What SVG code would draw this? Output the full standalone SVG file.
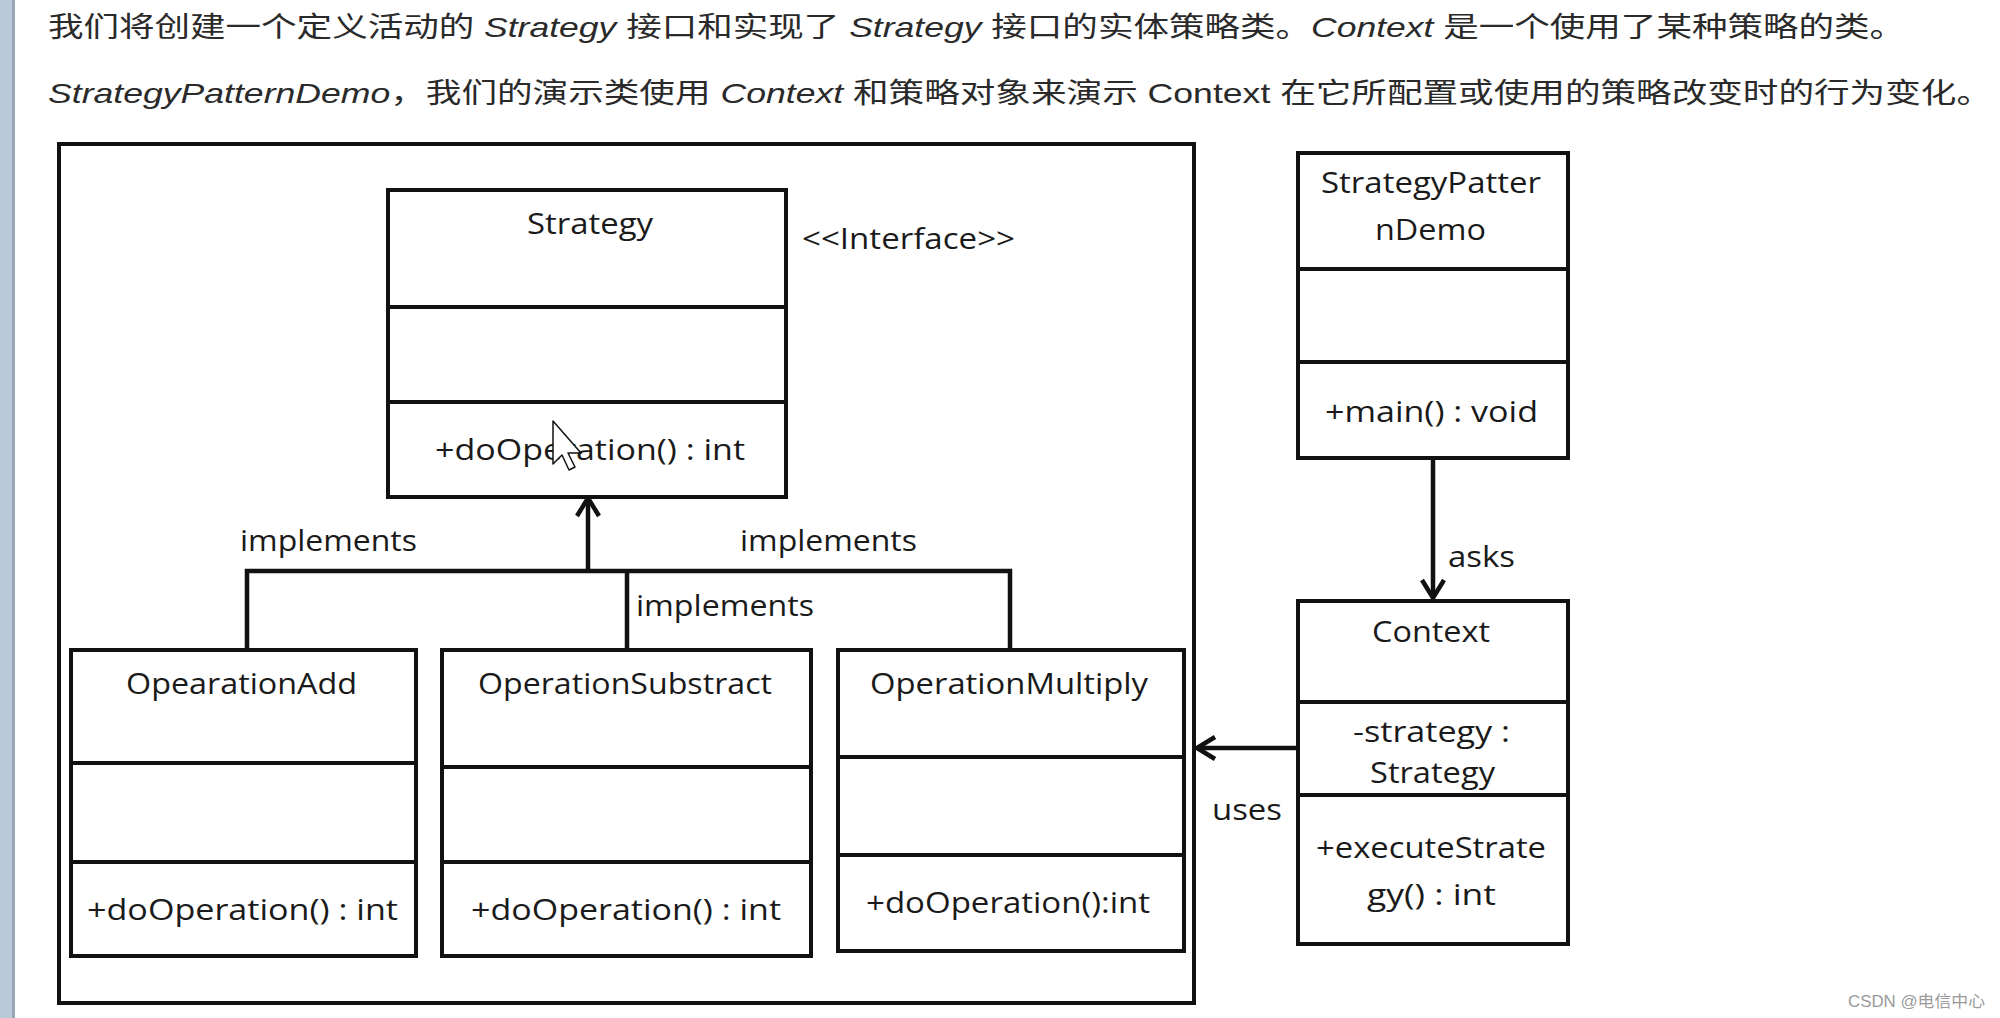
<svg xmlns="http://www.w3.org/2000/svg" width="2000" height="1018" viewBox="0 0 2000 1018">
<style>
.box{fill:#fff;stroke:#111;stroke-width:4}
.div{stroke:#111;stroke-width:4}
.t{font-family:"Open Sans","Liberation Sans",sans-serif;font-size:30px;fill:#1a1a1a}
.m{text-anchor:middle}
.hd{font-family:"Liberation Sans","Noto Sans CJK SC",sans-serif;font-size:28px;fill:#2a2a2a}
.it{font-style:italic}
.conn{fill:none;stroke:#111;stroke-width:4.5}
</style>
<defs>
<marker id="open" markerUnits="userSpaceOnUse" markerWidth="40" markerHeight="40" viewBox="-25 -20 40 40" refX="0" refY="0" orient="auto">
<path d="M-18,-11 L0,0 L-18,11" fill="none" stroke="#111" stroke-width="4.5"/>
</marker>
</defs>
<rect x="0" y="0" width="2000" height="1018" fill="#fff"/>
<rect x="0" y="0" width="12" height="1018" fill="#b9c9d9"/>
<rect x="12" y="0" width="3" height="1018" fill="#9aa6b2"/>

<g id="header">
<text class="hd" x="48" y="37" textLength="1857" lengthAdjust="spacingAndGlyphs">我们将创建一个定义活动的 <tspan class="it">Strategy</tspan> 接口和实现了 <tspan class="it">Strategy</tspan> 接口的实体策略类。<tspan class="it">Context</tspan> 是一个使用了某种策略的类。</text>
<text class="hd" x="48" y="103" textLength="1944" lengthAdjust="spacingAndGlyphs"><tspan class="it">StrategyPatternDemo</tspan>，我们的演示类使用 <tspan class="it">Context</tspan> 和策略对象来演示 Context 在它所配置或使用的策略改变时的行为变化。</text>
</g>

<g id="frame">
<rect x="59" y="144" width="1135" height="859" fill="none" stroke="#111" stroke-width="4"/>
</g>

<g id="connectors">
<polyline class="conn" points="247,650 247,571 1010,571 1010,650"/>
<line class="conn" x1="627" y1="571" x2="627" y2="650"/>
<line class="conn" x1="588" y1="571" x2="588" y2="498" marker-end="url(#open)"/>
<line class="conn" x1="1433" y1="458" x2="1433" y2="598" marker-end="url(#open)"/>
<line class="conn" x1="1298" y1="748" x2="1197" y2="748" marker-end="url(#open)"/>
<text class="t" x="240" y="551" textLength="177" lengthAdjust="spacingAndGlyphs">implements</text>
<text class="t" x="740" y="551" textLength="177" lengthAdjust="spacingAndGlyphs">implements</text>
<text class="t" x="636" y="616" textLength="178" lengthAdjust="spacingAndGlyphs">implements</text>
<text class="t" x="1448" y="567" textLength="67" lengthAdjust="spacingAndGlyphs">asks</text>
<text class="t" x="1212" y="820" textLength="70" lengthAdjust="spacingAndGlyphs">uses</text>
</g>

<g id="Strategy">
<rect class="box" x="388" y="190" width="398" height="307"/>
<line class="div" x1="388" y1="307" x2="786" y2="307"/>
<line class="div" x1="388" y1="402" x2="786" y2="402"/>
<text class="t m" x="590" y="234" textLength="126" lengthAdjust="spacingAndGlyphs">Strategy</text>
<text class="t m" x="590" y="460" textLength="310" lengthAdjust="spacingAndGlyphs">+doOperation() : int</text>
<text class="t" x="802" y="249" textLength="213" lengthAdjust="spacingAndGlyphs">&lt;&lt;Interface&gt;&gt;</text>
</g>

<g id="OpearationAdd">
<rect class="box" x="71" y="650" width="345" height="306"/>
<line class="div" x1="71" y1="763" x2="416" y2="763"/>
<line class="div" x1="71" y1="862" x2="416" y2="862"/>
<text class="t m" x="241.5" y="694" textLength="231" lengthAdjust="spacingAndGlyphs">OpearationAdd</text>
<text class="t m" x="242.5" y="920" textLength="311" lengthAdjust="spacingAndGlyphs">+doOperation() : int</text>
</g>

<g id="OperationSubstract">
<rect class="box" x="442" y="650" width="369" height="306"/>
<line class="div" x1="442" y1="767" x2="811" y2="767"/>
<line class="div" x1="442" y1="862" x2="811" y2="862"/>
<text class="t m" x="625" y="694" textLength="294" lengthAdjust="spacingAndGlyphs">OperationSubstract</text>
<text class="t m" x="626" y="920" textLength="310" lengthAdjust="spacingAndGlyphs">+doOperation() : int</text>
</g>

<g id="OperationMultiply">
<rect class="box" x="838" y="650" width="346" height="301"/>
<line class="div" x1="838" y1="757" x2="1184" y2="757"/>
<line class="div" x1="838" y1="855" x2="1184" y2="855"/>
<text class="t m" x="1009" y="694" textLength="278" lengthAdjust="spacingAndGlyphs">OperationMultiply</text>
<text class="t m" x="1008" y="913" textLength="284" lengthAdjust="spacingAndGlyphs">+doOperation():int</text>
</g>

<g id="StrategyPatternDemo">
<rect class="box" x="1298" y="153" width="270" height="305"/>
<line class="div" x1="1298" y1="269" x2="1568" y2="269"/>
<line class="div" x1="1298" y1="362" x2="1568" y2="362"/>
<text class="t m" x="1431" y="193" textLength="220" lengthAdjust="spacingAndGlyphs">StrategyPatter</text>
<text class="t m" x="1430.5" y="240" textLength="111" lengthAdjust="spacingAndGlyphs">nDemo</text>
<text class="t m" x="1431.5" y="422" textLength="213" lengthAdjust="spacingAndGlyphs">+main() : void</text>
</g>

<g id="Context">
<rect class="box" x="1298" y="601" width="270" height="343"/>
<line class="div" x1="1298" y1="702" x2="1568" y2="702"/>
<line class="div" x1="1298" y1="795" x2="1568" y2="795"/>
<text class="t m" x="1431" y="642" textLength="118" lengthAdjust="spacingAndGlyphs">Context</text>
<text class="t m" x="1431.5" y="742" textLength="157" lengthAdjust="spacingAndGlyphs">-strategy :</text>
<text class="t m" x="1432.5" y="783" textLength="125" lengthAdjust="spacingAndGlyphs">Strategy</text>
<text class="t m" x="1431" y="858" textLength="230" lengthAdjust="spacingAndGlyphs">+executeStrate</text>
<text class="t m" x="1431.5" y="905" textLength="129" lengthAdjust="spacingAndGlyphs">gy() : int</text>
</g>

<g id="cursor">
<path d="M553,421 L553,464 L562,455 L569,470 L575,467 L568,453 L581,453 Z" fill="#fff" stroke="#111" stroke-width="1.5" stroke-linejoin="round"/>
</g>

<g id="watermark">
<text x="1848" y="1007" font-family="Liberation Sans,Noto Sans CJK SC,sans-serif" font-size="16" fill="#9a9a9a" textLength="137" lengthAdjust="spacingAndGlyphs">CSDN @电信中心</text>
</g>
</svg>
